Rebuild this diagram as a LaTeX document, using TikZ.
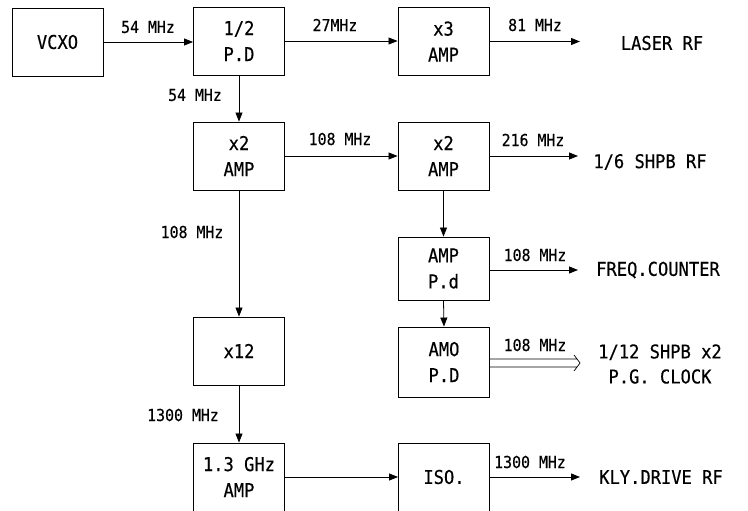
\documentclass[tikz,border=0pt]{standalone}
\usepackage{fontspec}
\setmainfont{DejaVu Sans Mono}[FakeStretch=0.9,FakeBold=0.4]
\usetikzlibrary{arrows.meta}
\begin{document}
\begin{tikzpicture}[x=1pt,y=-1pt,
  blk/.style={draw,line width=0.9pt,minimum width=91pt,minimum height=68pt,inner sep=0pt,align=center,font=\fontsize{19}{26}\selectfont},
  lbl/.style={font=\fontsize{16.5}{17}\selectfont,inner sep=0pt},
  outl/.style={font=\fontsize{19}{25}\selectfont,inner sep=0pt,align=center},
  conn/.style={line width=0.8pt,-{Triangle[length=9pt,width=7pt]}},
  hollow/.style={line width=0.7pt}]
\useasboundingbox (0,0) rectangle (748,511);
% blocks
\node[blk] (vcxo) at (57.5,42) {VCXO};
\node[blk] (pd) at (239,41) {1/2\\P.D};
\node[blk] (x3) at (443.5,41.5) {x3\\AMP};
\node[blk] (x2l) at (239,156) {x2\\AMP};
\node[blk] (x2r) at (443.5,156) {x2\\AMP};
\node[blk,minimum height=63pt] (ampd) at (443.5,268.5) {AMP\\P.d};
\node[blk,minimum height=70pt] (amo) at (444,362) {AMO\\P.D};
\node[blk] (x12) at (239,351) {x12};
\node[blk] (ghz) at (239,477) {1.3 GHz\\AMP};
\node[blk] (iso) at (444,477) {ISO.};
% free ends
\coordinate (laser) at (580,41.5);
\coordinate (shpb) at (578,156);
\coordinate (freq) at (578,270);
\coordinate (clock) at (580,363);
\coordinate (kly) at (580,477);
% outputs
\node[outl] (tlaser) at (662,43) {LASER RF};
\node[outl] (tshpb) at (650,162) {1/6 SHPB RF};
\node[outl] (tfreq) at (658,270) {FREQ.COUNTER};
\node[outl] (tclock) at (660,364) {1/12 SHPB x2\\P.G. CLOCK};
\node[outl] (tkly) at (661,477) {KLY.DRIVE RF};
% connectors
\draw[conn] (vcxo.east) -- (pd.west |- vcxo.east);
\draw[conn] (pd.east) -- (x3.west |- pd.east);
\draw[conn] (x3.east) -- (laser);
\draw[conn] (pd.south) -- (x2l.north);
\draw[conn] (x2l.east) -- (x2r.west);
\draw[conn] (x2r.east) -- (shpb);
\draw[conn] (x2r.south) -- (ampd.north);
\draw[conn] (ampd.east |- freq) -- (freq);
\draw[conn] (ampd.south) -- (amo.north);
\draw[hollow] (amo.east |- clock) ++(0,-4) -- ([xshift=-3pt,yshift=4pt]clock)
  (amo.east |- clock) ++(0,4) -- ([xshift=-3pt,yshift=-4pt]clock)
  ([xshift=-6pt,yshift=8pt]clock) -- (clock) -- ([xshift=-6pt,yshift=-8pt]clock);
\draw[conn] (x2l.south) -- (x12.north);
\draw[conn] (x12.south) -- (ghz.north);
\draw[conn] (ghz.east) -- (iso.west);
\draw[conn] (iso.east) -- (kly);
% labels
\node[lbl] (l1) at (148,27) {54 MHz};
\node[lbl] (l2) at (335,25) {27MHz};
\node[lbl] (l3) at (535,25) {81 MHz};
\node[lbl] (l4) at (195,95) {54 MHz};
\node[lbl] (l5) at (340,139) {108 MHz};
\node[lbl] (l6) at (533,140) {216 MHz};
\node[lbl] (l7) at (192,232) {108 MHz};
\node[lbl] (l8) at (535,255) {108 MHz};
\node[lbl] (l9) at (535,345) {108 MHz};
\node[lbl] (l10) at (183,415) {1300 MHz};
\node[lbl] (l11) at (530,462) {1300 MHz};
\end{tikzpicture}
\end{document}
